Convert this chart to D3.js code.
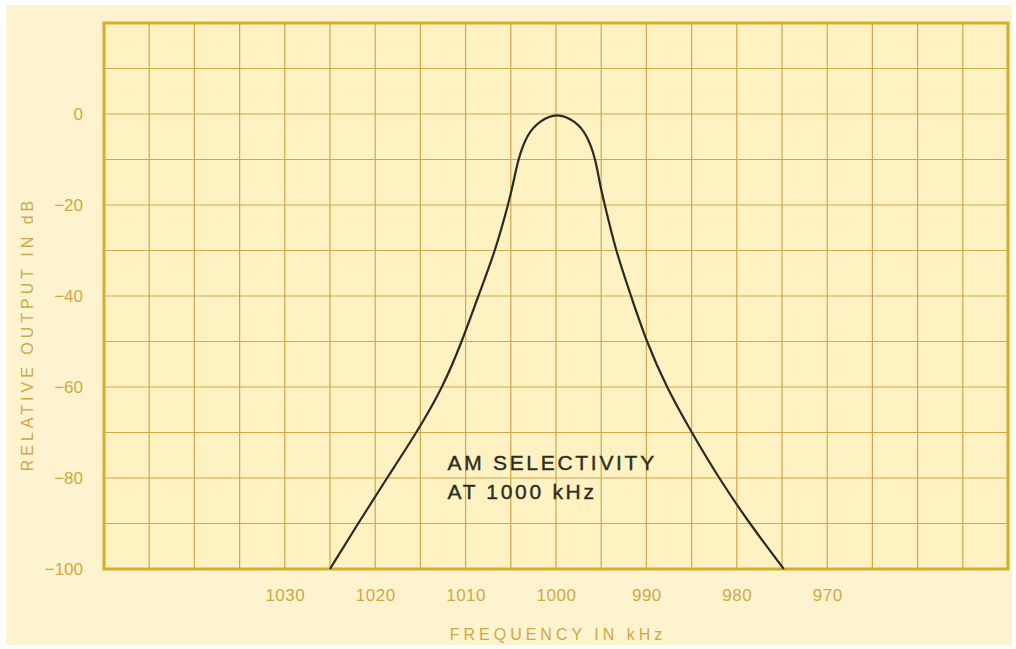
<!DOCTYPE html>
<html>
<head>
<meta charset="utf-8">
<script src="https://cdn.jsdelivr.net/npm/d3@7"></script>
<style>
  body { margin: 0; background: #ffffff; }
  svg { display: block; }
</style>
</head>
<body>
<div id="chart-area"></div>
<script>
/*
*    AM selectivity at 1000 kHz
*/

// curve (left to right on screen)
var freqs = [1025, 1021.9, 1018.7, 1015.4, 1012.5, 1010.4, 1008.6, 1006.7, 1005.3, 1004.7,
             1004.2, 1003.2, 1001.8, 999.9, 997.9, 996.6, 995.6, 995.2, 994.6, 993.4,
             991.7, 990, 987.8, 985, 982, 978.6, 974.8];
var levels = [-100, -90, -80, -70, -60, -50, -40, -30, -20, -15,
              -10, -4.4, -1.5, 0.3, -1.5, -4.4, -10, -15, -20, -30,
              -40, -50, -60, -70, -80, -90, -100];

var xTicks = [1030, 1020, 1010, 1000, 990, 980, 970];
var yTicks = [0, -20, -40, -60, -80, -100];
var noteLines = ["AM SELECTIVITY", "AT 1000 kHz"];

var width = 1016, height = 649;

var svg = d3.select("#chart-area").append("svg")
    .attr("width", width)
    .attr("height", height);

// paper
svg.append("rect")
    .attr("x", 6).attr("y", 5)
    .attr("width", 1006).attr("height", 640)
    .attr("fill", "#fdf3cf");

var x = d3.scaleLinear()
    .domain([1050, 950])
    .range([104, 1008]);

var y = d3.scaleLinear()
    .domain([20, -100])
    .range([23, 569]);

svg.append("rect")
    .attr("x", x(1050)).attr("y", y(20))
    .attr("width", x(950) - x(1050))
    .attr("height", y(-100) - y(20))
    .attr("fill", "#fef1c2");

// grid
var gridColor = "#cda84c";
svg.append("g").selectAll("line")
    .data(d3.range(1045, 950, -5))
    .enter().append("line")
        .attr("x1", (d)=>{return x(d);})
        .attr("x2", (d)=>{return x(d);})
        .attr("y1", y(20))
        .attr("y2", y(-100))
        .attr("stroke", gridColor)
        .attr("stroke-width", 1.2);

svg.append("g").selectAll("line")
    .data(d3.range(10, -100, -10))
    .enter().append("line")
        .attr("x1", x(1050))
        .attr("x2", x(950))
        .attr("y1", (d)=>{return y(d);})
        .attr("y2", (d)=>{return y(d);})
        .attr("stroke", gridColor)
        .attr("stroke-width", 1.2);

// frame
svg.append("rect")
    .attr("x", x(1050)).attr("y", y(20))
    .attr("width", x(950) - x(1050))
    .attr("height", y(-100) - y(20))
    .attr("fill", "none")
    .attr("stroke", "#d5ae2c")
    .attr("stroke-width", 3);

// axes
var labelColor = "#cfa845";

var xAxis = svg.append("g")
    .attr("transform", "translate(0," + y(-100) + ")")
    .call(d3.axisBottom(x).tickValues(xTicks).tickSize(0).tickPadding(20).tickFormat(d3.format("d")));
xAxis.select(".domain").remove();
xAxis.selectAll("text")
    .attr("fill", labelColor)
    .style("font", "17px 'Liberation Sans', Arial, sans-serif")
    .style("letter-spacing", "0.5px");

var yAxis = svg.append("g")
    .attr("transform", "translate(" + x(1050) + ",0)")
    .call(d3.axisLeft(y).tickValues(yTicks).tickSize(0).tickPadding(21));
yAxis.select(".domain").remove();
yAxis.selectAll("text")
    .attr("fill", labelColor)
    .style("font", "17px 'Liberation Sans', Arial, sans-serif");

svg.append("text")
    .attr("x", (x(1050) + x(950)) / 2 + 2)
    .attr("y", 640)
    .attr("text-anchor", "middle")
    .attr("fill", labelColor)
    .style("font", "16px 'Liberation Sans', Arial, sans-serif")
    .style("letter-spacing", "4px")
    .text("FREQUENCY IN kHz");

svg.append("text")
    .attr("transform", "translate(33," + ((y(20) + y(-100)) / 2 + 38) + ") rotate(-90)")
    .attr("text-anchor", "middle")
    .attr("fill", labelColor)
    .style("font", "16px 'Liberation Sans', Arial, sans-serif")
    .style("letter-spacing", "4px")
    .text("RELATIVE OUTPUT IN dB");

// curve
var pts = freqs.map((f, i)=>{return [f, levels[i]];});

var line = d3.line()
    .x((d)=>{return x(d[0]);})
    .y((d)=>{return y(d[1]);})
    .curve(d3.curveBasis);

svg.append("path")
    .datum(pts)
    .attr("d", line)
    .attr("fill", "none")
    .attr("stroke", "#2b2a22")
    .attr("stroke-width", 2.2);

// note
svg.append("g").selectAll("text")
    .data(noteLines)
    .enter().append("text")
        .attr("x", x(1012))
        .attr("y", (d, i)=>{return y(-78.2) + i * 29;})
        .attr("fill", "#2e2c22")
        .attr("stroke", "#2e2c22")
        .attr("stroke-width", 0.4)
        .style("font", "21px 'Liberation Sans', Arial, sans-serif")
        .style("letter-spacing", "2.7px")
        .text((d)=>{return d;});
</script>
</body>
</html>
